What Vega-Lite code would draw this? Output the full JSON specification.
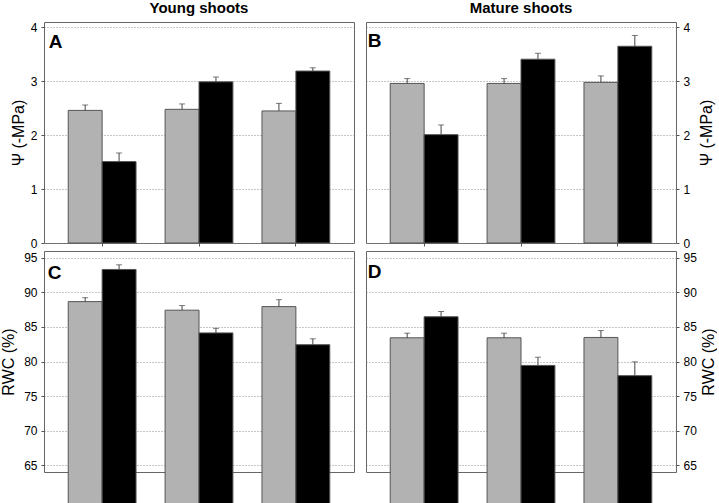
{
  "$schema": "https://vega.github.io/schema/vega-lite/v6.json",
  "padding": {"left": 0, "top": 0, "right": 0, "bottom": 0},
  "background": "white",
  "config": {
    "font": "Liberation Sans",
    "view": {"stroke": "#666666", "strokeWidth": 1},
    "axis": {
      "labelFont": "Liberation Sans",
      "titleFont": "Liberation Sans",
      "labelColor": "#000",
      "titleColor": "#000",
      "domain": false,
      "labelFontSize": 12,
      "titleFontSize": 16,
      "titleFontWeight": "normal",
      "ticks": true,
      "tickSize": 3,
      "tickColor": "#555"
    },
    "axisY": {"grid": true, "gridDash": [1, 2], "gridColor": "#8c8c8c", "labelPadding": 4, "titlePadding": 5, "format": "d", "tickCount": 10},
    "axisX": {"grid": false, "labelFontSize": 14, "labelPadding": 4, "title": null, "labelAngle": 0},
    "title": {"font": "Liberation Sans", "color": "#000", "fontSize": 15, "fontWeight": "bold", "baseline": "alphabetic", "offset": 5, "anchor": "middle", "frame": "group"}
  },
  "datasets": {
    "young": [
      {"treatment": "AdW", "cond": "a", "psi": 2.46, "psi_hi": 2.56, "rwc": 88.67, "rwc_hi": 89.24},
      {"treatment": "AdW", "cond": "b", "psi": 1.51, "psi_hi": 1.67, "rwc": 93.33, "rwc_hi": 94.0},
      {"treatment": "AbW", "cond": "a", "psi": 2.48, "psi_hi": 2.58, "rwc": 87.43, "rwc_hi": 88.1},
      {"treatment": "AbW", "cond": "b", "psi": 2.99, "psi_hi": 3.08, "rwc": 84.14, "rwc_hi": 84.8},
      {"treatment": "NW", "cond": "a", "psi": 2.45, "psi_hi": 2.59, "rwc": 87.95, "rwc_hi": 88.95},
      {"treatment": "NW", "cond": "b", "psi": 3.19, "psi_hi": 3.25, "rwc": 82.43, "rwc_hi": 83.29}
    ],
    "mature": [
      {"treatment": "AdW", "cond": "a", "psi": 2.96, "psi_hi": 3.05, "rwc": 83.43, "rwc_hi": 84.1},
      {"treatment": "AdW", "cond": "b", "psi": 2.01, "psi_hi": 2.19, "rwc": 86.48, "rwc_hi": 87.24},
      {"treatment": "AbW", "cond": "a", "psi": 2.96, "psi_hi": 3.05, "rwc": 83.43, "rwc_hi": 84.1},
      {"treatment": "AbW", "cond": "b", "psi": 3.41, "psi_hi": 3.52, "rwc": 79.43, "rwc_hi": 80.62},
      {"treatment": "NW", "cond": "a", "psi": 2.98, "psi_hi": 3.1, "rwc": 83.48, "rwc_hi": 84.48},
      {"treatment": "NW", "cond": "b", "psi": 3.65, "psi_hi": 3.85, "rwc": 77.95, "rwc_hi": 79.95}
    ]
  },
  "spacing": 10,
  "hconcat": [
    {
      "bounds": "flush",
      "spacing": 8,
      "vconcat": [
        {
          "width": 310, "height": 221,
          "title": "Young shoots",
          "encoding": {
            "x": {"field": "treatment", "type": "nominal", "sort": ["AdW", "AbW", "NW"], "scale": {"paddingInner": 0.3, "paddingOuter": 0.25}, "axis": {"labels": false}}
          },
          "layer": [
            {"data": {"name": "young"}, "mark": {"type": "bar", "stroke": "#555", "strokeWidth": 1},
             "encoding": {"xOffset": {"field": "cond", "type": "nominal", "sort": ["a", "b"]},
                          "y": {"field": "psi", "type": "quantitative", "scale": {"domain": [0, 4.1], "nice": false}, "axis": {"values": [0, 1, 2, 3, 4], "title": "Ψ (-MPa)", "titlePadding": 4}},
                          "color": {"field": "cond", "type": "nominal", "scale": {"domain": ["a", "b"], "range": ["#b2b2b2", "#000000"]}, "legend": null}}},
            {"data": {"name": "young"}, "mark": {"type": "rule", "color": "#444", "strokeWidth": 1},
             "encoding": {"xOffset": {"field": "cond", "type": "nominal", "sort": ["a", "b"]}, "y": {"field": "psi", "type": "quantitative"}, "y2": {"field": "psi_hi"}}},
            {"data": {"name": "young"}, "mark": {"type": "tick", "color": "#444", "size": 6, "thickness": 1, "orient": "horizontal"},
             "encoding": {"xOffset": {"field": "cond", "type": "nominal", "sort": ["a", "b"]}, "y": {"field": "psi_hi", "type": "quantitative"}}},
            {"data": {"values": [{"panel": "A"}]}, "mark": {"type": "text", "fontSize": 19, "fontWeight": "bold", "align": "left", "baseline": "alphabetic", "dx": -19.5, "dy": 25.5, "color": "#000"},
             "encoding": {"text": {"field": "panel"}, "x": {"datum": "AdW", "bandPosition": 0}, "y": {"datum": 4.1}}}
          ]
        },
        {
          "width": 310, "height": 221,
          "encoding": {
            "x": {"field": "treatment", "type": "nominal", "sort": ["AdW", "AbW", "NW"], "scale": {"paddingInner": 0.3, "paddingOuter": 0.25}, "axis": {"labels": true, "labelColor": "#000", "labelFontSize": 14}}
          },
          "layer": [
            {"data": {"name": "young"}, "mark": {"type": "bar", "stroke": "#555", "strokeWidth": 1},
             "encoding": {"xOffset": {"field": "cond", "type": "nominal", "sort": ["a", "b"]},
                          "y": {"field": "rwc", "type": "quantitative", "scale": {"domain": [64, 96], "nice": false, "zero": false}, "axis": {"values": [65, 70, 75, 80, 85, 90, 95], "title": "RWC (%)", "titlePadding": 7}},
                          "color": {"field": "cond", "type": "nominal", "scale": {"domain": ["a", "b"], "range": ["#b2b2b2", "#000000"]}, "legend": null}}},
            {"data": {"name": "young"}, "mark": {"type": "rule", "color": "#444", "strokeWidth": 1},
             "encoding": {"xOffset": {"field": "cond", "type": "nominal", "sort": ["a", "b"]}, "y": {"field": "rwc", "type": "quantitative"}, "y2": {"field": "rwc_hi"}}},
            {"data": {"name": "young"}, "mark": {"type": "tick", "color": "#444", "size": 6, "thickness": 1, "orient": "horizontal"},
             "encoding": {"xOffset": {"field": "cond", "type": "nominal", "sort": ["a", "b"]}, "y": {"field": "rwc_hi", "type": "quantitative"}}},
            {"data": {"values": [{"panel": "C"}]}, "mark": {"type": "text", "fontSize": 19, "fontWeight": "bold", "align": "left", "baseline": "alphabetic", "dx": -20.5, "dy": 28, "color": "#000"},
             "encoding": {"text": {"field": "panel"}, "x": {"datum": "AdW", "bandPosition": 0}, "y": {"datum": 96}}}
          ]
        }
      ]
    },
    {
      "bounds": "flush",
      "spacing": 8,
      "vconcat": [
        {
          "width": 310, "height": 221,
          "title": "Mature shoots",
          "encoding": {
            "x": {"field": "treatment", "type": "nominal", "sort": ["AdW", "AbW", "NW"], "scale": {"paddingInner": 0.3, "paddingOuter": 0.25}, "axis": {"labels": false}}
          },
          "layer": [
            {"data": {"name": "mature"}, "mark": {"type": "bar", "stroke": "#555", "strokeWidth": 1},
             "encoding": {"xOffset": {"field": "cond", "type": "nominal", "sort": ["a", "b"]},
                          "y": {"field": "psi", "type": "quantitative", "scale": {"domain": [0, 4.1], "nice": false}, "axis": {"orient": "right", "values": [0, 1, 2, 3, 4], "title": "Ψ (-MPa)", "titleAngle": 270, "titleBaseline": "top", "titlePadding": 9}},
                          "color": {"field": "cond", "type": "nominal", "scale": {"domain": ["a", "b"], "range": ["#b2b2b2", "#000000"]}, "legend": null}}},
            {"data": {"name": "mature"}, "mark": {"type": "rule", "color": "#444", "strokeWidth": 1},
             "encoding": {"xOffset": {"field": "cond", "type": "nominal", "sort": ["a", "b"]}, "y": {"field": "psi", "type": "quantitative"}, "y2": {"field": "psi_hi"}}},
            {"data": {"name": "mature"}, "mark": {"type": "tick", "color": "#444", "size": 6, "thickness": 1, "orient": "horizontal"},
             "encoding": {"xOffset": {"field": "cond", "type": "nominal", "sort": ["a", "b"]}, "y": {"field": "psi_hi", "type": "quantitative"}}},
            {"data": {"values": [{"panel": "B"}]}, "mark": {"type": "text", "fontSize": 19, "fontWeight": "bold", "align": "left", "baseline": "alphabetic", "dx": -22.5, "dy": 25, "color": "#000"},
             "encoding": {"text": {"field": "panel"}, "x": {"datum": "AdW", "bandPosition": 0}, "y": {"datum": 4.1}}}
          ]
        },
        {
          "width": 310, "height": 221,
          "encoding": {
            "x": {"field": "treatment", "type": "nominal", "sort": ["AdW", "AbW", "NW"], "scale": {"paddingInner": 0.3, "paddingOuter": 0.25}, "axis": {"labels": true, "labelColor": "#000", "labelFontSize": 14}}
          },
          "layer": [
            {"data": {"name": "mature"}, "mark": {"type": "bar", "stroke": "#555", "strokeWidth": 1},
             "encoding": {"xOffset": {"field": "cond", "type": "nominal", "sort": ["a", "b"]},
                          "y": {"field": "rwc", "type": "quantitative", "scale": {"domain": [64, 96], "nice": false, "zero": false}, "axis": {"orient": "right", "values": [65, 70, 75, 80, 85, 90, 95], "title": "RWC (%)", "titleAngle": 270, "titleBaseline": "top", "titlePadding": 4}},
                          "color": {"field": "cond", "type": "nominal", "scale": {"domain": ["a", "b"], "range": ["#b2b2b2", "#000000"]}, "legend": null}}},
            {"data": {"name": "mature"}, "mark": {"type": "rule", "color": "#444", "strokeWidth": 1},
             "encoding": {"xOffset": {"field": "cond", "type": "nominal", "sort": ["a", "b"]}, "y": {"field": "rwc", "type": "quantitative"}, "y2": {"field": "rwc_hi"}}},
            {"data": {"name": "mature"}, "mark": {"type": "tick", "color": "#444", "size": 6, "thickness": 1, "orient": "horizontal"},
             "encoding": {"xOffset": {"field": "cond", "type": "nominal", "sort": ["a", "b"]}, "y": {"field": "rwc_hi", "type": "quantitative"}}},
            {"data": {"values": [{"panel": "D"}]}, "mark": {"type": "text", "fontSize": 19, "fontWeight": "bold", "align": "left", "baseline": "alphabetic", "dx": -22.5, "dy": 27, "color": "#000"},
             "encoding": {"text": {"field": "panel"}, "x": {"datum": "AdW", "bandPosition": 0}, "y": {"datum": 96}}}
          ]
        }
      ]
    }
  ]
}
